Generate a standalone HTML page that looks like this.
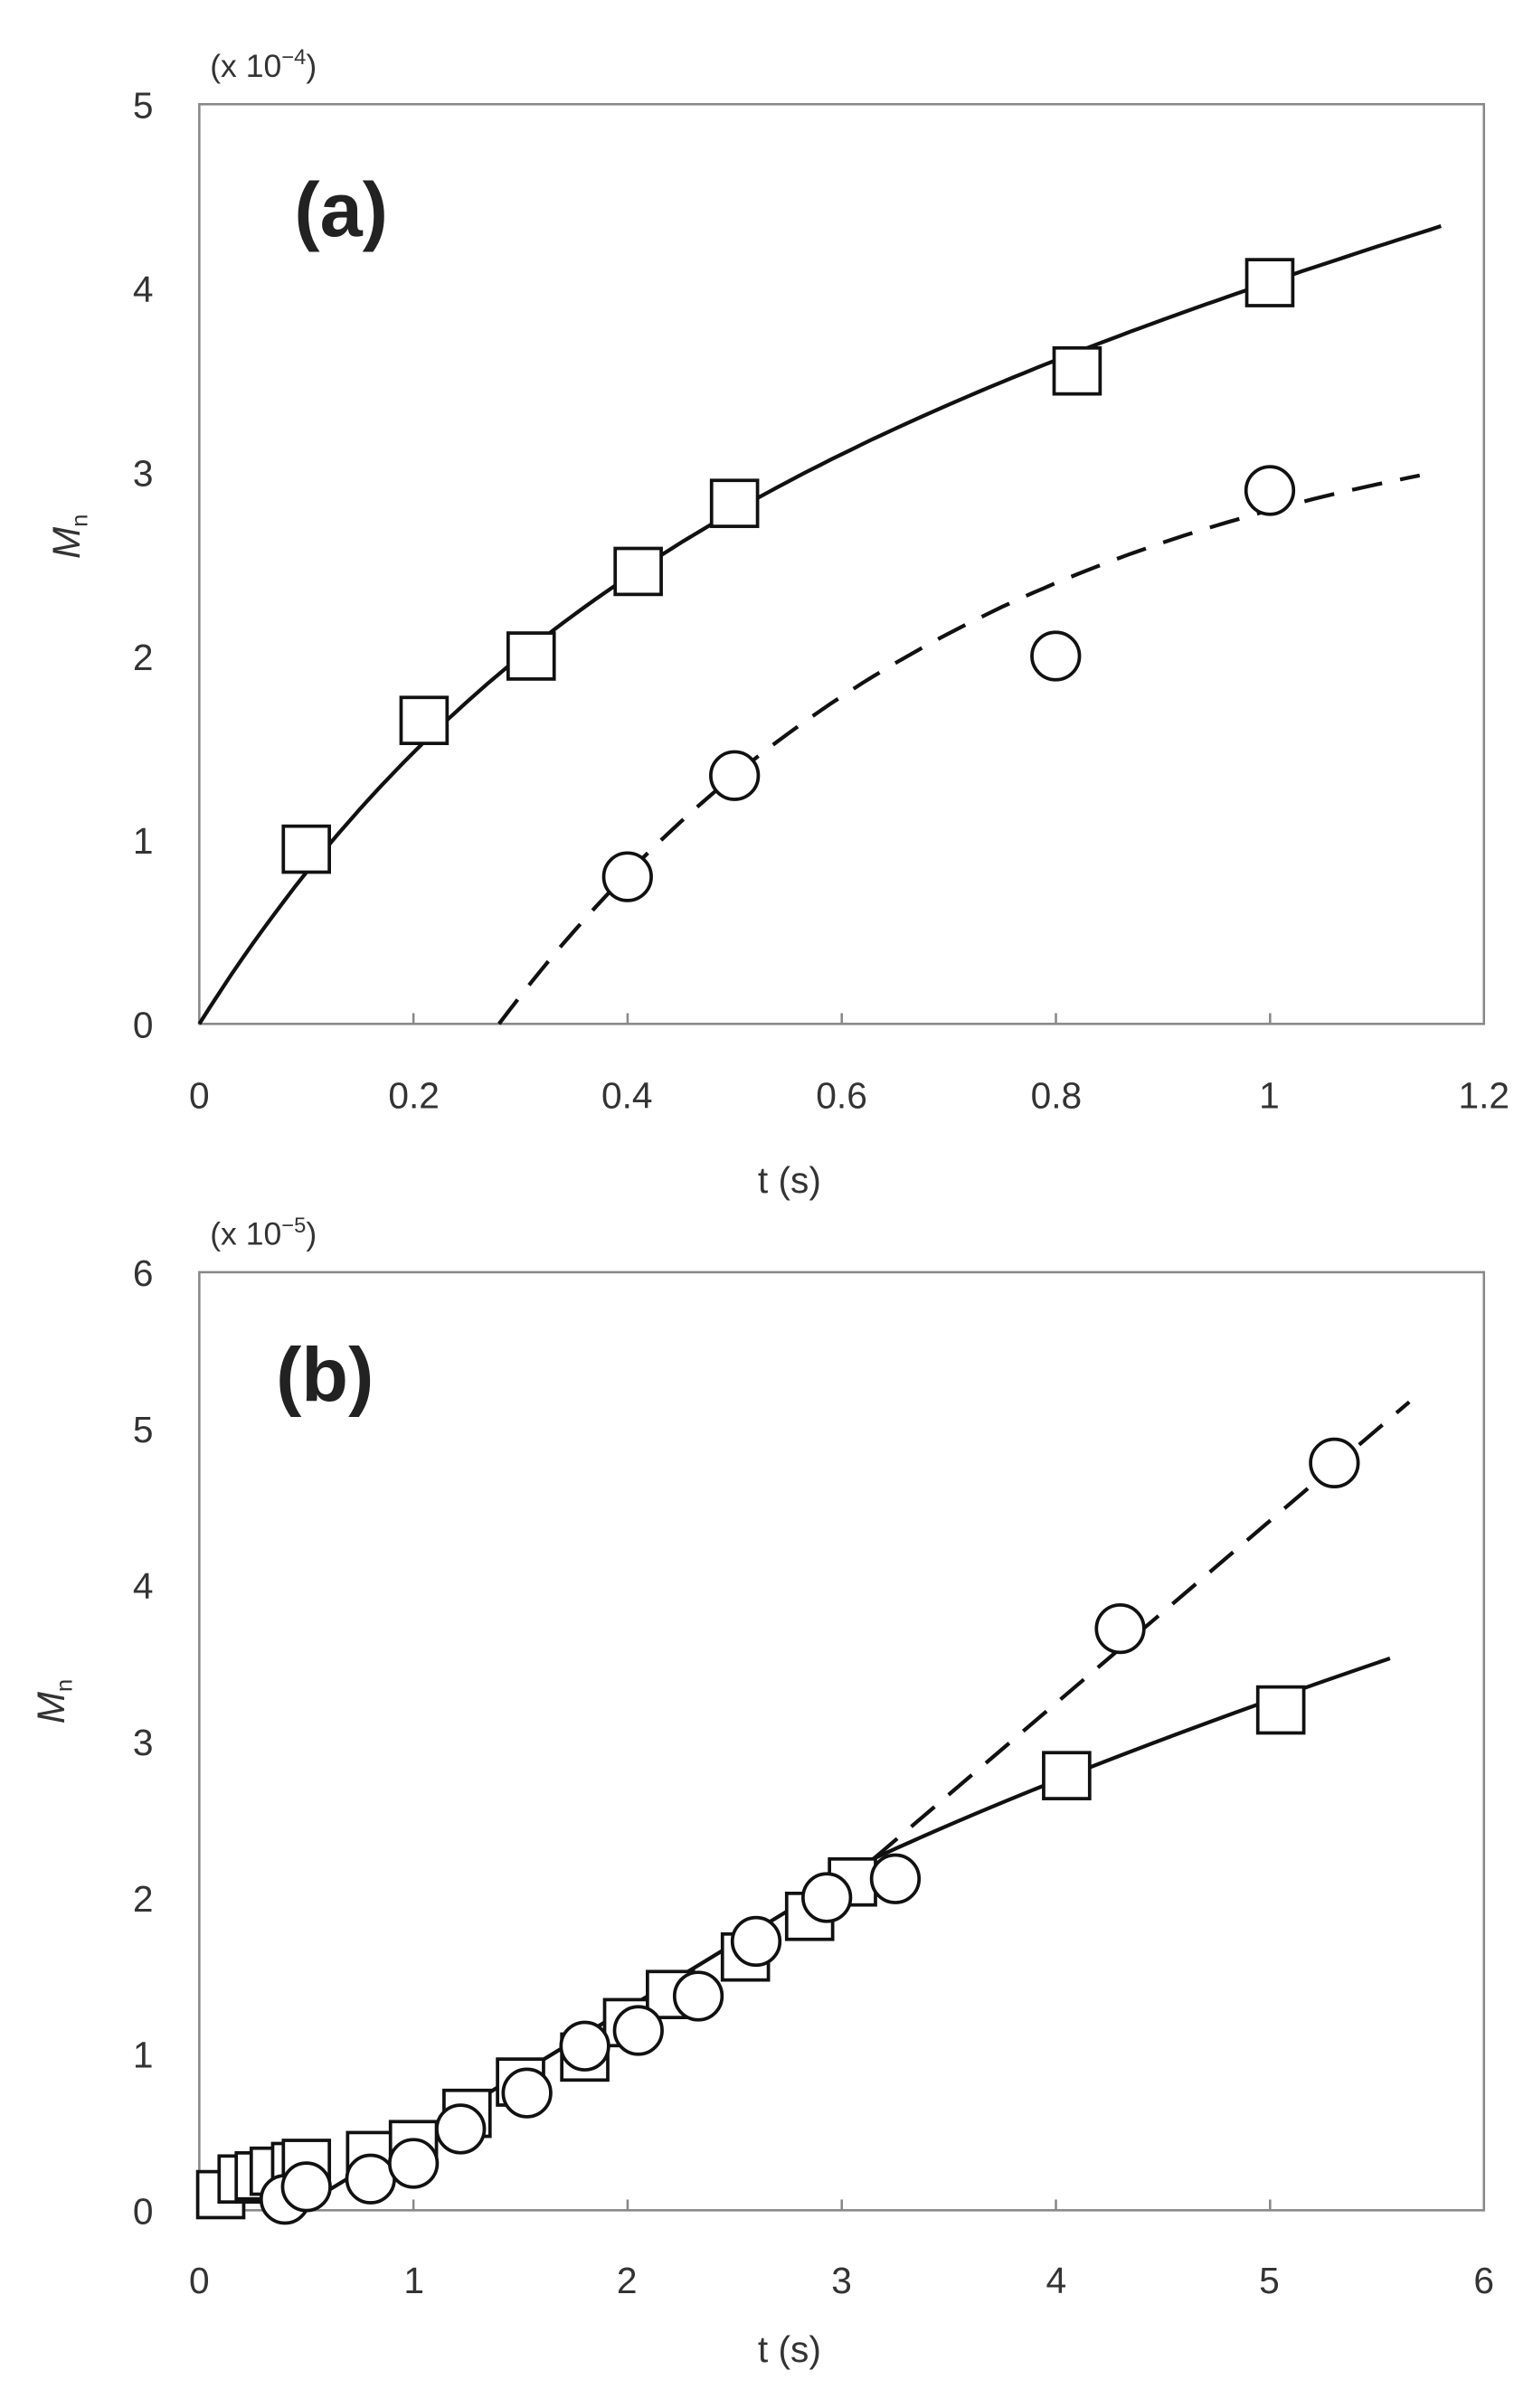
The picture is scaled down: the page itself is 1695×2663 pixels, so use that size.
<!DOCTYPE html>
<html><head><meta charset="utf-8"><style>
html,body{margin:0;padding:0;background:#fff}
svg{display:block}
text{font-family:"Liberation Sans",sans-serif;fill:#333}
</style></head><body>
<svg id="s" width="1695" height="2663" viewBox="0 0 1000 1571" preserveAspectRatio="none" xmlns="http://www.w3.org/2000/svg">
<rect x="130" y="68" width="838" height="600" fill="none" stroke="#888" stroke-width="1.5"/>
<rect x="130" y="830" width="838" height="612" fill="none" stroke="#888" stroke-width="1.5"/>
<g font-size="24" text-anchor="end">
<text x="100" y="677">0</text><text x="100" y="557">1</text><text x="100" y="437">2</text><text x="100" y="317">3</text><text x="100" y="197">4</text><text x="100" y="77">5</text>
<text x="100" y="1451">0</text><text x="100" y="1349">1</text><text x="100" y="1247">2</text><text x="100" y="1145">3</text><text x="100" y="1043">4</text><text x="100" y="941">5</text><text x="100" y="839">6</text>
</g>
<g font-size="24" text-anchor="middle">
<text x="130" y="723">0</text><text x="270" y="723">0.2</text><text x="409" y="723">0.4</text><text x="549" y="723">0.6</text><text x="689" y="723">0.8</text><text x="828" y="723">1</text><text x="968" y="723">1.2</text>
<text x="130" y="1496">0</text><text x="270" y="1496">1</text><text x="409" y="1496">2</text><text x="549" y="1496">3</text><text x="689" y="1496">4</text><text x="828" y="1496">5</text><text x="968" y="1496">6</text>
<text x="515" y="778">t (s)</text><text x="515" y="1541">t (s)</text>
</g>
<text x="137" y="50" font-size="21">(x 10<tspan font-size="14" dy="-8">−4</tspan><tspan dy="8">)</tspan></text>
<text x="137" y="812" font-size="21">(x 10<tspan font-size="14" dy="-8">−5</tspan><tspan dy="8">)</tspan></text>
<text x="192" y="154" font-size="50" font-weight="bold" style="fill:#222">(a)</text>
<text x="180" y="914" font-size="50" font-weight="bold" style="fill:#222">(b)</text>
<text transform="translate(52,350) rotate(-90)" font-size="25" text-anchor="middle" font-style="italic">M<tspan font-size="15" font-style="normal" dy="5">n</tspan></text>
<text transform="translate(42,1110) rotate(-90)" font-size="25" text-anchor="middle" font-style="italic">M<tspan font-size="15" font-style="normal" dy="5">n</tspan></text>
<g id="g"></g>
</svg>
<script>
var g=document.getElementById('g'),h='';
function ax(t){return 130+t*698.3}function ay(v){return 668-v*120}
function bx(t){return 130+t*139.7}function by(v){return 1442-v*102}
for(var i=1;i<6;i++){h+='<line x1="'+(130+i*139.7)+'" y1="668" x2="'+(130+i*139.7)+'" y2="661" stroke="#888" stroke-width="1.5"/>';h+='<line x1="'+(130+i*139.7)+'" y1="1442" x2="'+(130+i*139.7)+'" y2="1435" stroke="#888" stroke-width="1.5"/>';}
var p='';for(var t=0;t<=1.166;t+=0.01){p+=(p?'L':'M')+ax(t).toFixed(1)+','+ay(2.56*(1-Math.exp(-3*t))+1.6*t).toFixed(1);}
h+='<path d="'+p+'" fill="none" stroke="#111" stroke-width="2.5"/>';
p='';for(var t=0.28;t<=1.141;t+=0.01){p+=(p?'L':'M')+ax(t).toFixed(1)+','+ay(3.5*(1-Math.exp(-2.22*(t-0.28)))).toFixed(1);}
h+='<path d="'+p+'" fill="none" stroke="#111" stroke-width="2.5" stroke-dasharray="20,12"/>';
h+='<path d="M'+bx(0.45)+','+by(0)+' L'+bx(3.15)+','+by(2.25)+' Q'+bx(4.1)+','+by(2.85)+' '+bx(5.56)+','+by(3.53)+'" fill="none" stroke="#111" stroke-width="2.5"/>';
h+='<path d="M'+bx(3.15)+','+by(2.25)+' L'+bx(5.65)+','+by(5.17)+'" fill="none" stroke="#111" stroke-width="2.5" stroke-dasharray="20,12"/>';
function sq(x,y){h+='<rect x="'+(x-15)+'" y="'+(y-15)+'" width="30" height="30" fill="#fff" stroke="#111" stroke-width="2.2"/>';}
function ci(x,y){h+='<circle cx="'+x+'" cy="'+y+'" r="15.5" fill="#fff" stroke="#111" stroke-width="2.2"/>';}
[[0.1,0.95],[0.21,1.65],[0.31,2],[0.41,2.46],[0.5,2.83],[0.82,3.55],[1.0,4.03]].forEach(function(d){sq(ax(d[0]),ay(d[1]))});
[[0.4,0.8],[0.5,1.35],[0.8,2.0],[1.0,2.9]].forEach(function(d){ci(ax(d[0]),ay(d[1]))});
[[0.1,0.1],[0.2,0.2],[0.28,0.22],[0.35,0.25],[0.45,0.28],[0.5,0.3],[0.8,0.35],[1.0,0.42],[1.25,0.62],[1.5,0.82],[1.8,0.98],[2.0,1.2],[2.2,1.38],[2.55,1.62],[2.85,1.88],[3.05,2.1],[4.05,2.78],[5.05,3.2]].forEach(function(d){sq(bx(d[0]),by(d[1]))});
[[0.4,0.07],[0.5,0.15],[0.8,0.2],[1.0,0.3],[1.22,0.52],[1.53,0.75],[1.8,1.05],[2.05,1.15],[2.33,1.37],[2.6,1.72],[2.93,2.0],[3.25,2.12],[4.3,3.72],[5.3,4.78]].forEach(function(d){ci(bx(d[0]),by(d[1]))});
g.innerHTML=h;
</script>
</body></html>
